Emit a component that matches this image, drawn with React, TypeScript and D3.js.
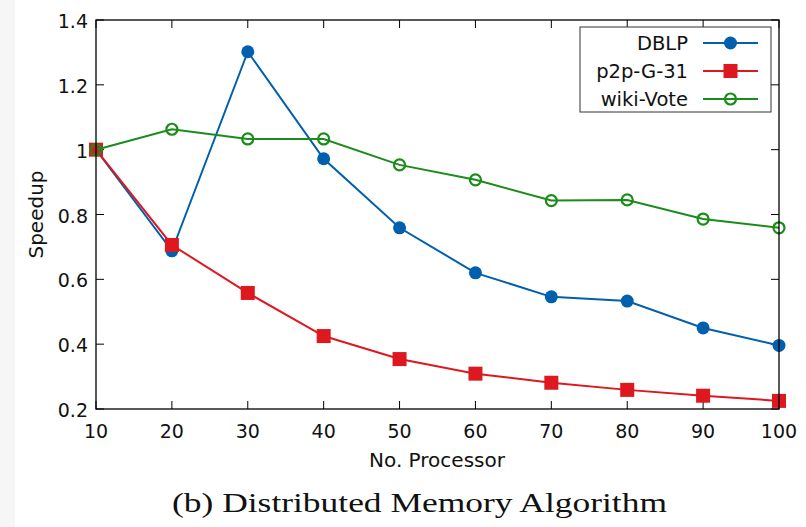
import React from "react";
import * as d3 from "d3";

// Processor counts along the x axis
const processors = [10, 20, 30, 40, 50, 60, 70, 80, 90, 100];

// Speedup per dataset
const dblp = [1.0, 0.688, 1.302, 0.972, 0.759, 0.62, 0.546, 0.533, 0.45, 0.396];
const p2p = [1.0, 0.706, 0.558, 0.425, 0.354, 0.309, 0.281, 0.259, 0.241, 0.225];
const wiki = [1.0, 1.063, 1.033, 1.033, 0.953, 0.907, 0.843, 0.845, 0.786, 0.759];

const yTicks = [0.2, 0.4, 0.6, 0.8, 1.0, 1.2, 1.4];
const yTickLabels = ["0.2", "0.4", "0.6", "0.8", "1", "1.2", "1.4"];

const seriesNames = ["DBLP", "p2p-G-31", "wiki-Vote"];
const seriesColors = ["#0060ad", "#dd181f", "#1a8c1a"];

const W = 806;
const H = 527;
const left = 96;
const right = 779;
const top = 20;
const bottom = 409;
const sans = "'DejaVu Sans', Verdana, sans-serif";

function Marker({ kind, x, y, color }: { kind: number; x: number; y: number; color: string }) {
  if (kind === 0) return <circle cx={x} cy={y} r={6.5} fill={color} />;
  if (kind === 1) return <rect x={x - 7} y={y - 7} width={14} height={14} fill={color} />;
  return <circle cx={x} cy={y} r={5.5} fill="none" stroke={color} strokeWidth={2.2} />;
}

export default function App() {
  const x = d3.scaleLinear().domain([10, 100]).range([left, right]);
  const y = d3.scaleLinear().domain([0.2, 1.4]).range([bottom, top]);
  const line = d3
    .line<number>()
    .x((_, i) => x(processors[i]))
    .y((d) => y(d));
  const series = [dblp, p2p, wiki];
  const tickLen = 8;

  return (
    <svg
      width={W}
      height={H}
      style={{ position: "absolute", left: 0, top: 0, display: "block" }}
    >
      <rect x={0} y={0} width={W} height={H} fill="#ffffff" />
      <rect x={0} y={0} width={15} height={H} fill="#f6f6f6" />

      {/* tick marks on all four sides */}
      {processors.map((p) => (
        <g key={"xt" + p} stroke="#000" strokeWidth={1}>
          <line x1={x(p)} x2={x(p)} y1={bottom} y2={bottom - tickLen} />
          <line x1={x(p)} x2={x(p)} y1={top} y2={top + tickLen} />
        </g>
      ))}
      {yTicks.map((t) => (
        <g key={"yt" + t} stroke="#000" strokeWidth={1}>
          <line x1={left} x2={left + tickLen} y1={y(t)} y2={y(t)} />
          <line x1={right} x2={right - tickLen} y1={y(t)} y2={y(t)} />
        </g>
      ))}

      {/* tick labels */}
      {processors.map((p) => (
        <text
          key={"xl" + p}
          x={x(p)}
          y={438}
          textAnchor="middle"
          fontFamily={sans}
          fontSize={19}
          fill="#111"
        >
          {p}
        </text>
      ))}
      {yTicks.map((t, i) => (
        <text
          key={"yl" + t}
          x={88}
          y={y(t) + 8}
          textAnchor="end"
          fontFamily={sans}
          fontSize={19}
          fill="#111"
        >
          {yTickLabels[i]}
        </text>
      ))}

      {/* data */}
      {series.map((s, k) => (
        <g key={"s" + k}>
          <path d={line(s) || ""} fill="none" stroke={seriesColors[k]} strokeWidth={2} />
          {s.map((v, i) => (
            <Marker key={i} kind={k} x={x(processors[i])} y={y(v)} color={seriesColors[k]} />
          ))}
        </g>
      ))}

      {/* frame */}
      <rect
        x={left}
        y={top}
        width={right - left}
        height={bottom - top}
        fill="none"
        stroke="#000"
        strokeWidth={1.3}
      />

      {/* legend */}
      <rect x={580} y={27} width={191} height={85} fill="#fff" stroke="#333" strokeWidth={1} />
      {seriesNames.map((name, k) => {
        const ly = 43 + k * 28;
        return (
          <g key={"lg" + k}>
            <text
              x={688}
              y={ly + 7}
              textAnchor="end"
              fontFamily={sans}
              fontSize={19.5}
              fill="#111"
            >
              {name}
            </text>
            <line x1={703} x2={758} y1={ly} y2={ly} stroke={seriesColors[k]} strokeWidth={2} />
            <Marker kind={k} x={730.5} y={ly} color={seriesColors[k]} />
          </g>
        );
      })}

      {/* axis titles */}
      <text
        x={437}
        y={467}
        textAnchor="middle"
        fontFamily={sans}
        fontSize={20}
        fill="#111"
      >
        No. Processor
      </text>
      <text
        transform={`translate(43, ${(top + bottom) / 2}) rotate(-90)`}
        textAnchor="middle"
        fontFamily={sans}
        fontSize={20}
        fill="#111"
      >
        Speedup
      </text>

      {/* caption */}
      <text
        x={172}
        y={512}
        textLength={495}
        lengthAdjust="spacingAndGlyphs"
        fontFamily="'Liberation Serif', 'DejaVu Serif', serif"
        fontSize={27}
        fill="#111"
      >
        (b) Distributed Memory Algorithm
      </text>
    </svg>
  );
}
